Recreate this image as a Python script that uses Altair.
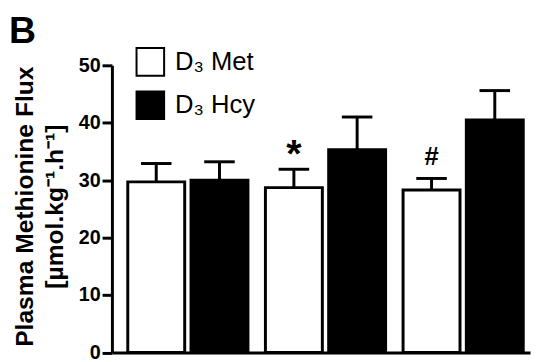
import altair as alt
import pandas as pd

groups = ["G1", "G2", "G3"]
series = ["D₃ Met", "D₃ Hcy"]
met_mean = [29.7, 28.7, 28.3]
met_err = [3.2, 3.2, 2.0]
hcy_mean = [30.0, 35.3, 40.5]
hcy_err = [3.2, 5.7, 5.1]
met_notes = ["", "*", "#"]
hcy_notes = ["", "", ""]
y_ticks = [0, 10, 20, 30, 40, 50]
panel_label = ["B"]
y_title = ["Plasma Methionine Flux", "[µmol.kg⁻¹.h⁻¹]"]

rows = []
for i, g in enumerate(groups):
    rows.append({"group": g, "series": series[0], "mean": met_mean[i],
                 "top": met_mean[i] + met_err[i], "note": met_notes[i]})
    rows.append({"group": g, "series": series[1], "mean": hcy_mean[i],
                 "top": hcy_mean[i] + hcy_err[i], "note": hcy_notes[i]})
df = pd.DataFrame(rows)

FONT = "Liberation Sans"

x_enc = alt.X("group:N", sort=groups,
              scale=alt.Scale(paddingInner=0.127, paddingOuter=0.0823, align=0.70),
              axis=alt.Axis(labels=False, ticks=False, title=None, domainWidth=3,
                            domainColor="black"))
xo_enc = alt.XOffset("series:N", sort=series,
                     scale=alt.Scale(paddingInner=0.1, paddingOuter=0))
y_scale = alt.Scale(domain=[0, 50], nice=False)

base = alt.Chart(df)

bars = base.mark_bar(stroke="black", strokeWidth=3).encode(
    x=x_enc, xOffset=xo_enc,
    y=alt.Y("mean:Q", scale=y_scale,
            axis=alt.Axis(values=y_ticks, title=y_title, grid=False,
                          domainWidth=3, domainColor="black",
                          tickWidth=3, tickSize=10, tickColor="black",
                          labelFont=FONT, labelFontWeight="bold", labelFontSize=20,
                          labelColor="black", labelPadding=2,
                          titleFont=FONT, titleFontWeight="bold", titleFontSize=25,
                          titleColor="black", titleLineHeight=31,
                          titleX=-101, titleY=143, titleAngle=-90,
                          titleBaseline="top", titleAlign="center")),
    color=alt.Color("series:N", sort=series,
                    scale=alt.Scale(domain=series, range=["white", "black"]),
                    legend=alt.Legend(title=None, orient="none", legendX=24, legendY=-18.5,
                                      symbolType="square", symbolSize=784,
                                      symbolStrokeWidth=2, symbolStrokeColor="black",
                                      symbolOpacity=1,
                                      labelFont=FONT, labelFontSize=26,
                                      labelColor="black", labelOffset=10,
                                      rowPadding=8, padding=0)),
)

rules = base.mark_rule(color="black", strokeWidth=3).encode(
    x=x_enc, xOffset=xo_enc, y=alt.Y("mean:Q", scale=y_scale), y2="top:Q"
)

caps = base.mark_tick(color="black", thickness=3, size=31, opacity=1).encode(
    x=x_enc, xOffset=xo_enc, y=alt.Y("top:Q", scale=y_scale)
)

star = base.transform_filter(alt.datum.note == "*").mark_text(
    font=FONT, fontWeight="bold", fontSize=40, color="black", dy=-2, baseline="alphabetic"
).encode(x=x_enc, xOffset=xo_enc, y=alt.Y("top:Q", scale=y_scale), text="note:N")

hash_ = base.transform_filter(alt.datum.note == "#").mark_text(
    font=FONT, fontWeight="bold", fontSize=26, color="black", dy=-14, baseline="alphabetic"
).encode(x=x_enc, xOffset=xo_enc, y=alt.Y("top:Q", scale=y_scale), text="note:N")

label = alt.Chart(pd.DataFrame({"t": panel_label})).mark_text(
    font=FONT, fontWeight="bold", fontSize=38, color="black", align="left",
    baseline="alphabetic"
).encode(x=alt.value(-104.5), y=alt.value(-22.5), text="t:N")

chart = alt.layer(bars, rules, caps, star, hash_, label).properties(
    width=424.5, height=291.5,
    autosize=alt.AutoSizeParams(type="none"),
    padding={"left": 105.5, "top": 55.5, "right": 3, "bottom": 7},
).configure_view(stroke=None)

chart.save("out.html", embed_options={"renderer": "svg", "actions": False})
